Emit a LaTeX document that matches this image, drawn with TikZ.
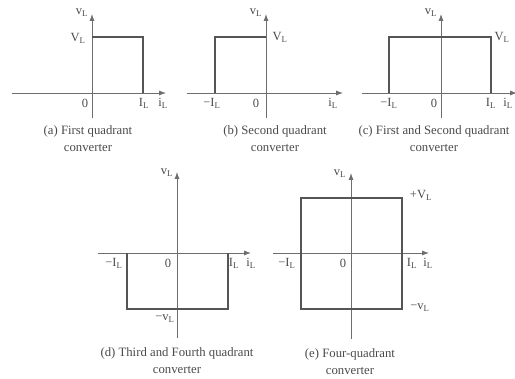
\documentclass[tikz,border=0pt]{standalone}
\usepackage{fontspec}
\setmainfont{Liberation Serif}
\usepackage{xcolor}
\usetikzlibrary{arrows.meta}
\definecolor{AxisGray}{HTML}{6E6E6E}
\definecolor{TraceGray}{HTML}{555555}
\definecolor{TextGray}{HTML}{4A4A4A}
\newcommand{\sub}[2]{#1\textsubscript{#2}}

\begin{document}
\begin{tikzpicture}[
    x=0.8pt, y=-0.8pt,
    axis/.style={-{Latex[length=5.5pt,width=4pt]}, color=AxisGray, line width=0.7pt},
    trace/.style={color=TraceGray, line width=1.1pt},
    lbl/.style={inner sep=1pt, text=TextGray, font=\fontsize{10}{12}\selectfont},
    caption/.style={align=center, text=TextGray, font=\fontsize{10.2}{13.5}\selectfont}
]
\useasboundingbox (0,0) rectangle (515,378);

% (a) first quadrant
\coordinate (aB) at (92,118);
\coordinate (aT) at (92,14);
\coordinate (aL) at (12,93);
\coordinate (aR) at (166,93);
\draw[axis] (aB) -- (aT);
\draw[axis] (aL) -- (aR);
\draw[trace] (92,37) -- (143,37) -- (143,93);
\node[lbl] (avl) at (82,13) {\sub{v}{L}};
\node[lbl] (aVL) at (78,38) {\sub{V}{L}};
\node[lbl] (azero) at (85,103) {0};
\node[lbl] (aIL) at (144,103) {\sub{I}{L}};
\node[lbl] (ail) at (163,103) {\sub{i}{L}};
\node[caption] (acap) at (88,139) {(a) First quadrant\\converter};

% (b) second quadrant
\coordinate (bB) at (266,118);
\coordinate (bT) at (266,14);
\coordinate (bL) at (187,93);
\coordinate (bR) at (343,93);
\draw[axis] (bB) -- (bT);
\draw[axis] (bL) -- (bR);
\draw[trace] (215,93) -- (215,37) -- (266,37);
\node[lbl] (bvl) at (256,13) {\sub{v}{L}};
\node[lbl] (bVL) at (280,37) {\sub{V}{L}};
\node[lbl] (bmIL) at (212,103) {−\sub{I}{L}};
\node[lbl] (bzero) at (256,103) {0};
\node[lbl] (bil) at (333,103) {\sub{i}{L}};
\node[caption] (bcap) at (275,139) {(b) Second quadrant\\converter};

% (c) first and second quadrant
\coordinate (cB) at (441,118);
\coordinate (cT) at (441,14);
\coordinate (cL) at (362,93);
\coordinate (cR) at (517,93);
\draw[axis] (cB) -- (cT);
\draw[axis] (cL) -- (cR);
\draw[trace] (389,93) -- (389,37) -- (491,37) -- (491,93);
\node[lbl] (cvl) at (431,13) {\sub{v}{L}};
\node[lbl] (cVL) at (502,37) {\sub{V}{L}};
\node[lbl] (cmIL) at (389,103) {−\sub{I}{L}};
\node[lbl] (czero) at (434,103) {0};
\node[lbl] (cIL) at (491,103) {\sub{I}{L}};
\node[lbl] (cil) at (508,103) {\sub{i}{L}};
\node[caption] (ccap) at (434,139) {(c) First and Second quadrant\\converter};

% (d) third and fourth quadrant
\coordinate (dB) at (177,338);
\coordinate (dT) at (177,172);
\coordinate (dL) at (98,253);
\coordinate (dR) at (251,253);
\draw[axis] (dB) -- (dT);
\draw[axis] (dL) -- (dR);
\draw[trace] (127,253) -- (127,309) -- (228,309) -- (228,253);
\node[lbl] (dvl) at (167,173) {\sub{v}{L}};
\node[lbl] (dmIL) at (114,263) {−\sub{I}{L}};
\node[lbl] (dzero) at (168,263) {0};
\node[lbl] (dIL) at (234,263) {\sub{I}{L}};
\node[lbl] (dil) at (251,263) {\sub{i}{L}};
\node[lbl] (dmvL) at (165,319) {−\sub{v}{L}};
\node[caption] (dcap) at (177,361) {(d) Third and Fourth quadrant\\converter};

% (e) four quadrant
\coordinate (eB) at (351,339);
\coordinate (eT) at (351,173);
\coordinate (eL) at (273,253);
\coordinate (eR) at (429,253);
\draw[axis] (eB) -- (eT);
\draw[axis] (eL) -- (eR);
\draw[trace] (301,198) rectangle (402,309);
\node[lbl] (evl) at (340,174) {\sub{v}{L}};
\node[lbl] (epVL) at (421,195) {+\sub{V}{L}};
\node[lbl] (emvL) at (420,308) {−\sub{v}{L}};
\node[lbl] (emIL) at (287,263) {−\sub{I}{L}};
\node[lbl] (ezero) at (343,263) {0};
\node[lbl] (eIL) at (412,263) {\sub{I}{L}};
\node[lbl] (eil) at (428,263) {\sub{i}{L}};
\node[caption] (ecap) at (350,362) {(e) Four-quadrant\\converter};

\end{tikzpicture}
\end{document}
